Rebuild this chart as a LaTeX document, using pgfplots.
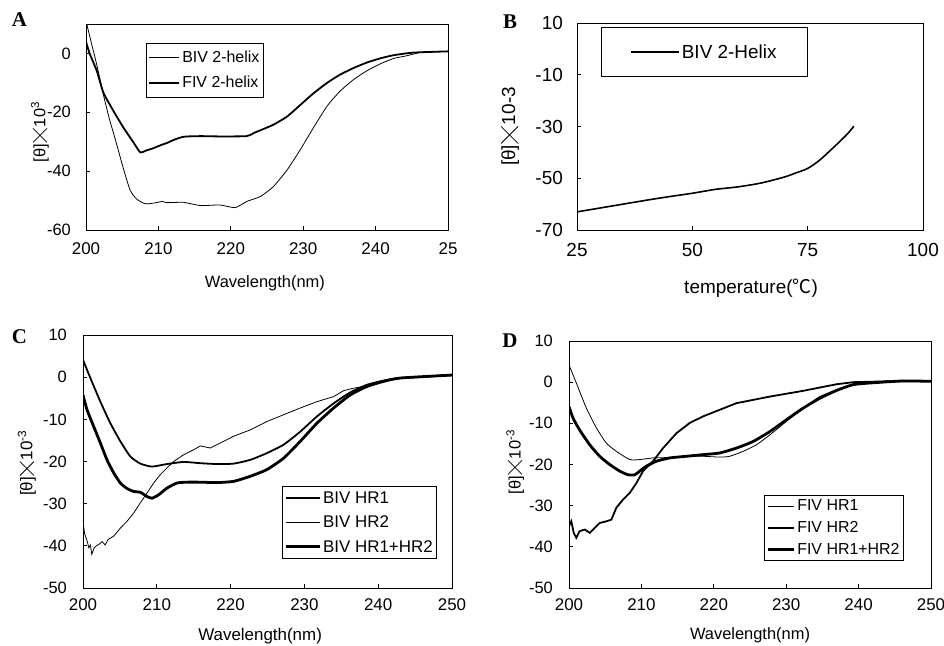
\documentclass[border=0pt]{standalone}
\usepackage{pgfplots}
\pgfplotsset{compat=1.18}
\usepackage{fontspec}
\setmainfont{Liberation Sans}
\newfontfamily\serifb{Liberation Serif}
\newfontfamily\cjk{Noto Sans CJK SC}

% thin, large multiplication cross as in the original axis titles
\newcommand\X[1]{\hspace{1bp}\tikz[baseline=0pt]\draw[line width=0.75bp, black]
  (0,{5.5bp-#1/2}) -- (#1,{5.5bp+#1/2}) (0,{5.5bp+#1/2}) -- (#1,{5.5bp-#1/2});\hspace{1bp}}

\pgfplotsset{
  panel/.style={
    scale only axis,
    axis line style={line width=0.9bp},
    tick align=inside,
    xtick pos=bottom, ytick pos=left,
    major tick length=4bp,
    tick style={line width=0.8bp, black},
    every tick label/.append style={inner sep=0pt},
    /pgf/number format/assume math mode=true,
    legend cell align=left,
    xlabel style={anchor=center},
    ylabel style={anchor=center},
  },
  thin/.style={black, line width=0.8bp},
  mid/.style={black, line width=1.8bp},
  thick/.style={black, line width=2.8bp},
}

\begin{document}
\begin{tikzpicture}
\path[use as bounding box] (0bp,0bp) rectangle (944bp,-646bp);

% ---------- A ----------
\begin{axis}[panel,
  at={(86bp,-230bp)}, anchor=south west, width=362bp, height=206bp,
  xmin=200, xmax=250, ymin=-60, ymax=10,
  xtick={200,210,220,230,240,250}, xticklabels={200,210,220,230,240,25},
  ytick={-60,-40,-20,0},
  xticklabel shift=12bp, yticklabel shift=15bp,
  xticklabel style={font=\fontsize{17}{20}\selectfont},
  yticklabel style={font=\fontsize{16.5}{19}\selectfont},
  xlabel={Wavelength(nm)}, ylabel={[θ]\X{14bp}10\textsuperscript{3}},
  label style={font=\fontsize{16.5}{19}\selectfont},
  xlabel style={at={(rel axis cs:0.494,-0.257)}},
  ylabel style={at={(rel axis cs:-0.127,0.476)}},
  legend style={at={(0.166,0.908)}, anchor=north west, draw=black, line width=0.8bp,
    inner xsep=2bp, inner ysep=6bp, row sep=8bp, font=\fontsize{16}{18}\selectfont},
  legend image code/.code={\draw[#1] (0bp,0bp) -- (30bp,0bp);},
]
\addplot[thin, smooth, tension=0.35] coordinates {(200,11) (200.5,6) (201,1) (201.5,-4) (202.4,-14) (203.2,-22)
 (204,-28.8) (205.2,-39.4) (206.1,-46.5) (207,-49.5) (208.2,-51.1) (209.5,-50.8) (210.5,-50.3)
 (211.2,-50.7) (213.5,-50.6) (215.8,-51.7) (218.5,-51.5) (220.6,-52.4) (222.2,-50.3) (224.1,-48.6)
 (225.9,-45.2) (227.8,-39.5) (229.6,-32.7) (231.4,-25.3) (233.3,-17.9) (235.1,-12.8) (237,-8.8)
 (238.8,-5.9) (240.6,-3.6) (242.5,-1.7) (244.3,-0.8) (246.2,0.3) (250,0.7)};
\addlegendentry{BIV 2-helix}
\addplot[mid, smooth, tension=0.35] coordinates {(200,4) (200.5,0) (201.5,-6) (202.4,-13.3) (203.8,-19.6) (205.2,-25.3)
 (206.6,-30.4) (207.5,-33.6) (208.4,-32.9) (209.3,-32.2) (210.3,-31.2) (211.2,-30.4) (212.1,-29.4)
 (213.5,-28.3) (215.8,-28.1) (218.5,-28.2) (222.2,-28.1) (223.2,-27) (224.1,-26.1) (225.9,-24.2)
 (227.8,-21.4) (229.6,-17.5) (231.4,-13.6) (233.3,-10) (235.1,-7.2) (237,-4.9) (238.8,-3.1)
 (240.6,-1.7) (242.5,-0.6) (245.3,0.3) (250,0.7)};
\addlegendentry{FIV 2-helix}
\end{axis}

% ---------- B ----------
\begin{axis}[panel,
  at={(577bp,-230bp)}, anchor=south west, width=346bp, height=207bp,
  xmin=25, xmax=100, ymin=-70, ymax=10,
  xtick={25,50,75,100}, ytick={-70,-50,-30,-10,10},
  xticklabel shift=13bp, yticklabel shift=14bp,
  ticklabel style={font=\fontsize{19}{22}\selectfont},
  xlabel={temperature({\cjk ℃})}, ylabel={[θ]\X{17bp}10-3},
  label style={font=\fontsize{19}{22}\selectfont},
  xlabel style={at={(rel axis cs:0.503,-0.280)}},
  ylabel style={at={(rel axis cs:-0.194,0.5)}},
  legend style={at={(0.069,0.981)}, anchor=north west, draw=black, line width=0.8bp,
    inner xsep=29bp, inner ysep=15bp, font=\fontsize{19}{22}\selectfont},
  legend image code/.code={\draw[#1] (0bp,0bp) -- (48bp,0bp);},
]
\addplot[black, line width=1.6bp, smooth] coordinates {(25,-63) (30,-61.5) (35,-60) (40,-58.5)
 (45,-57.1) (50,-55.8) (55,-54.3) (60,-53.3) (65,-51.8) (70,-49.5) (72.2,-48.1) (75,-46.2)
 (77.6,-43) (80,-39.1) (81.9,-35.9) (83.7,-32.7) (85,-29.9)};
\addlegendentry{BIV 2-Helix}
\end{axis}

% ---------- C ----------
\begin{axis}[panel,
  at={(83bp,-588bp)}, anchor=south west, width=369bp, height=253bp,
  xmin=200, xmax=250, ymin=-50, ymax=10,
  xtick={200,210,220,230,240,250}, ytick={-50,-40,-30,-20,-10,0,10},
  xticklabel shift=10bp, yticklabel shift=16bp,
  xticklabel style={font=\fontsize{17}{20}\selectfont},
  yticklabel style={font=\fontsize{16.5}{19}\selectfont},
  xlabel={Wavelength(nm)}, ylabel={[θ]\X{14bp}10\textsuperscript{-3}},
  label style={font=\fontsize{17}{20}\selectfont},
  xlabel style={at={(rel axis cs:0.480,-0.190)}},
  ylabel style={at={(rel axis cs:-0.152,0.494)}},
  legend style={at={(0.539,0.115)}, anchor=south west, draw=black, line width=0.8bp,
    inner xsep=2bp, inner ysep=3bp, row sep=7bp, font=\fontsize{17}{19}\selectfont},
  legend image code/.code={\draw[#1] (0bp,0bp) -- (34bp,0bp);},
]
\addplot[mid, smooth, tension=0.35] coordinates {(200,4.1) (201,-0.2) (202.35,-5.8) (203.7,-10.9) (205.06,-15.2)
 (206.41,-18.8) (207.77,-20.5) (209.35,-21.2) (211.38,-20.6) (213.64,-20.1) (215.9,-20.4)
 (218.16,-20.6) (220.42,-20.5) (222.67,-19.6) (224.93,-18) (227.19,-16) (229.45,-12.9)
 (231.71,-9.3) (233.97,-6.2) (236.22,-3.6) (238.48,-1.8) (240.74,-0.8) (243,-0.2) (245.26,0) (250,0.5)};
\addlegendentry{BIV HR1}
\addplot[thin] coordinates {(200,-34) (200.2,-37) (200.5,-38.5) (200.8,-40.5) (201,-39.8)
 (201.2,-42) (201.5,-40.5) (201.8,-40) (202.2,-39.6) (202.6,-39) (203,-39.8) (203.4,-38.5)
 (204.16,-37.7) (205.06,-35.8) (205.96,-34.2) (206.87,-32.2) (207.77,-29.8) (208.67,-27.5)
 (209.58,-25.1) (210.48,-23.1) (211.38,-21.5) (212.29,-20) (213.64,-18.4) (215,-17.2)
 (215.9,-16.3) (217.25,-16.8) (218.61,-15.6) (220.42,-14) (222.67,-12.5) (224.93,-10.5)
 (227.19,-8.9) (229.45,-7.3) (231.71,-5.8) (233.97,-4.6) (235.32,-3.2) (236.68,-2.6)
 (238.48,-2.1) (240.74,-0.9) (243,-0.2) (250,0.5)};
\addlegendentry{BIV HR2}
\addplot[thick, smooth, tension=0.35] coordinates {(200,-4.2) (200.54,-7.7) (201.45,-11.7) (202.35,-15.6) (203.25,-19.6)
 (204.16,-22.7) (205.06,-25.1) (205.96,-26.4) (206.87,-27.1) (207.77,-27.3) (208.67,-28.3)
 (209.35,-28.7) (210.25,-27.9) (211.38,-26.3) (212.74,-25.1) (214.09,-24.9) (215.9,-24.9)
 (218.16,-25) (220.42,-24.7) (222.67,-23.5) (224.93,-21.9) (227.19,-19.2) (229.45,-15.2)
 (231.71,-10.9) (233.97,-7.3) (236.22,-4.2) (238.48,-2.2) (240.74,-1) (243,-0.2) (250,0.5)};
\addlegendentry{BIV HR1+HR2}
\end{axis}

% ---------- D ----------
\begin{axis}[panel,
  at={(569bp,-588bp)}, anchor=south west, width=362bp, height=247bp,
  xmin=200, xmax=250, ymin=-50, ymax=10,
  xtick={200,210,220,230,240,250}, ytick={-50,-40,-30,-20,-10,0,10},
  xticklabel shift=10bp, yticklabel shift=16bp,
  xticklabel style={font=\fontsize{17}{20}\selectfont},
  yticklabel style={font=\fontsize{16.5}{19}\selectfont},
  xlabel={Wavelength(nm)}, ylabel={[θ]\X{14bp}10\textsuperscript{-3}},
  label style={font=\fontsize{16.5}{19}\selectfont},
  xlabel style={at={(rel axis cs:0.5,-0.190)}},
  ylabel style={at={(rel axis cs:-0.149,0.510)}},
  legend style={at={(0.539,0.109)}, anchor=south west, draw=black, line width=0.8bp,
    inner xsep=2bp, inner ysep=3bp, row sep=5bp, font=\fontsize{16}{18}\selectfont},
  legend image code/.code={\draw[#1] (0bp,0bp) -- (26bp,0bp);},
]
\addplot[thin, smooth, tension=0.35] coordinates {(200,4.2) (201.01,-0.2) (202.4,-6.3) (203.78,-11.1) (205.16,-14.8)
 (206.54,-16.8) (208.39,-18.8) (209.77,-18.8) (211.61,-18.4) (213.92,-18.3) (216.22,-18)
 (218.53,-18) (220.83,-18.2) (222.21,-18) (224.06,-16.8) (225.9,-15.2) (227.74,-12.8)
 (230.05,-9.5) (232.35,-6.3) (234.65,-3.5) (236.96,-1.9) (239.26,-0.6) (241.57,0) (246.18,0.4) (250,0.2)};
\addlegendentry{FIV HR1}
\addplot[mid] coordinates {(200,-35) (200.32,-33.8) (200.65,-36.6) (201.01,-37.8) (201.47,-36.2)
 (202.17,-35.8) (202.86,-36.6) (203.55,-35.4) (204.24,-34.2) (205.16,-33.8) (205.85,-33.4)
 (206.54,-30.5) (207.47,-28.5) (208.39,-26.9) (209.31,-24.5) (210.23,-21.6) (211.61,-19.2)
 (213,-16) (214.84,-12.4) (216.68,-9.9) (218.53,-8.3) (220.83,-6.7) (223.13,-5.1) (225.44,-4.3)
 (227.74,-3.5) (232.35,-2.1) (234.65,-1.3) (236.96,-0.5) (239.26,0) (243.87,0.2) (250,0.2)};
\addlegendentry{FIV HR2}
\addplot[thick, smooth, tension=0.35] coordinates {(200,-5.9) (200.55,-8.7) (201.47,-11.6) (202.86,-15.2) (204.24,-18)
 (205.62,-20) (207,-21.6) (208.16,-22.5) (209.08,-22.5) (209.77,-21.6) (210.69,-20.4) (212.07,-19.2)
 (213.92,-18.4) (216.22,-18) (218.53,-17.6) (220.83,-17.2) (223.13,-16) (225.44,-14.4)
 (227.74,-12) (230.05,-9.1) (232.35,-6.3) (234.65,-3.9) (236.96,-2) (239.26,-0.6) (241.57,-0.2)
 (246.18,0.3) (250,0.2)};
\addlegendentry{FIV HR1+HR2}
\end{axis}

% panel letters
\node[font=\serifb\bfseries\fontsize{21}{21}\selectfont] at (19.5bp,-20bp) {A};
\node[font=\serifb\bfseries\fontsize{21}{21}\selectfont] at (510bp,-21.5bp) {B};
\node[font=\serifb\bfseries\fontsize{21}{21}\selectfont] at (19.5bp,-337bp) {C};
\node[font=\serifb\bfseries\fontsize{21}{21}\selectfont] at (510bp,-341bp) {D};
\end{tikzpicture}
\end{document}
